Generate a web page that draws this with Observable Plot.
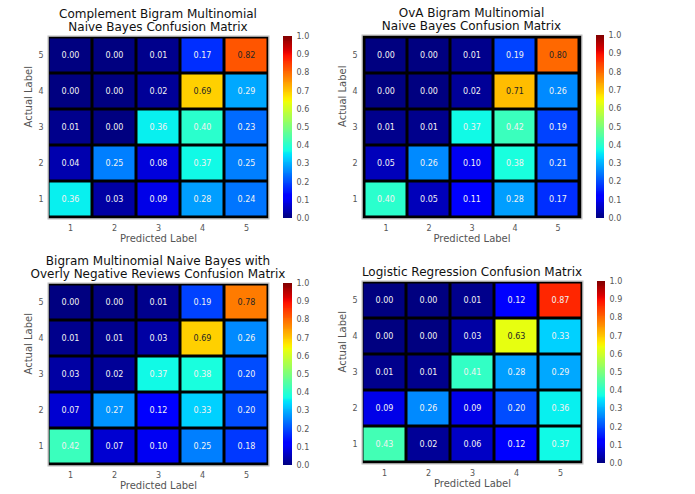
<!DOCTYPE html>
<html>
<head>
<meta charset="utf-8">
<script src="https://cdn.jsdelivr.net/npm/d3@7"></script>
<script src="https://cdn.jsdelivr.net/npm/@observablehq/plot@0.6"></script>
<style>
  html, body { margin: 0; padding: 0; background: #fff; }
  #root { position: relative; width: 695px; height: 494px; overflow: hidden; font-family: "DejaVu Sans", sans-serif; }
  .title { position: absolute; font-size: 12px; line-height: 13px; color: #111; text-align: center; white-space: nowrap; }
  .abs { position: absolute; }
</style>
</head>
<body>
<div id="root"></div>
<script>
// ---- data ----
const actualLabels = [1, 2, 3, 4, 5];
const predictedLabels = [1, 2, 3, 4, 5];
const colorbarTicks = [0, 0.1, 0.2, 0.3, 0.4, 0.5, 0.6, 0.7, 0.8, 0.9, 1.0];

// rows: actual label 1..5, columns: predicted label 1..5
const complementNB = [
  [0.36, 0.03, 0.09, 0.28, 0.24],
  [0.04, 0.25, 0.08, 0.37, 0.25],
  [0.01, 0.00, 0.36, 0.40, 0.23],
  [0.00, 0.00, 0.02, 0.69, 0.29],
  [0.00, 0.00, 0.01, 0.17, 0.82]
];
const ovaNB = [
  [0.40, 0.05, 0.11, 0.28, 0.17],
  [0.05, 0.26, 0.10, 0.38, 0.21],
  [0.01, 0.01, 0.37, 0.42, 0.19],
  [0.00, 0.00, 0.02, 0.71, 0.26],
  [0.00, 0.00, 0.01, 0.19, 0.80]
];
const negativeNB = [
  [0.42, 0.07, 0.10, 0.25, 0.18],
  [0.07, 0.27, 0.12, 0.33, 0.20],
  [0.03, 0.02, 0.37, 0.38, 0.20],
  [0.01, 0.01, 0.03, 0.69, 0.26],
  [0.00, 0.00, 0.01, 0.19, 0.78]
];
const logistic = [
  [0.43, 0.02, 0.06, 0.12, 0.37],
  [0.09, 0.26, 0.09, 0.20, 0.36],
  [0.01, 0.01, 0.41, 0.28, 0.29],
  [0.00, 0.00, 0.03, 0.63, 0.33],
  [0.00, 0.00, 0.01, 0.12, 0.87]
];
const titles = [
  ["Complement Bigram Multinomial", "Naive Bayes Confusion Matrix"],
  ["OvA Bigram Multinomial", "Naive Bayes Confusion Matrix"],
  ["Bigram Multinomial Naive Bayes with", "Overly Negative Reviews Confusion Matrix"],
  ["Logistic Regression Confusion Matrix"]
];
const matrices = [complementNB, ovaNB, negativeNB, logistic];

// ---- jet colormap (matplotlib) as piecewise scale ----
const jetStops = [0, 0.11, 0.125, 0.34, 0.35, 0.375, 0.64, 0.65, 0.66, 0.89, 0.91, 1];
const jetColors = ["rgb(0,0,128)", "rgb(0,0,255)", "rgb(0,0,255)", "rgb(0,219,255)", "rgb(0,230,247)",
  "rgb(21,255,226)", "rgb(239,255,8)", "rgb(247,246,0)", "rgb(255,236,0)", "rgb(255,19,0)",
  "rgb(232,0,0)", "rgb(128,0,0)"];
const colorScale = { type: "linear", domain: jetStops, range: jetColors, interpolate: "rgb" };

// ---- layout ----
const layout = [
  { x0: 48, x1: 268, y0: 36, y1: 218, cb0: 283, cb1: 292 },
  { x0: 362, x1: 581, y0: 35, y1: 218, cb0: 596, cb1: 604 },
  { x0: 48, x1: 268, y0: 283, y1: 465, cb0: 283, cb1: 292 },
  { x0: 362, x1: 582, y0: 281, y1: 463, cb0: 597, cb1: 605 }
];

const root = document.getElementById("root");
const font = "DejaVu Sans, sans-serif";

matrices.forEach((m, k) => {
  const L = layout[k];
  const data = [];
  m.forEach((row, i) => row.forEach((v, j) => data.push({ actual: actualLabels[i], pred: predictedLabels[j], v })));

  const mL = 48, mT = 4, mR = 4, mB = 34;
  const heat = Plot.plot({
    width: (L.x1 - L.x0) + mL + mR,
    height: (L.y1 - L.y0) + mT + mB,
    marginLeft: mL, marginTop: mT, marginRight: mR, marginBottom: mB,
    style: { fontSize: "8px", fontFamily: font, color: "#555", background: "transparent", overflow: "visible" },
    x: { type: "band", domain: predictedLabels, padding: 0, tickSize: 0, tickPadding: 7, label: null },
    y: { type: "band", domain: actualLabels.slice().reverse(), padding: 0, tickSize: 0, tickPadding: 5, label: null },
    color: colorScale,
    marks: [
      Plot.frame({ fill: "black" }),
      Plot.cell(data, { x: "pred", y: "actual", fill: "v", inset: 1.5 }),
      Plot.frame({ stroke: "#bdbdbd", strokeWidth: 1, inset: -0.5 }),
      Plot.text(data, {
        x: "pred", y: "actual", text: d => d.v.toFixed(2), fontSize: 8,
        fill: d => (d.v >= 0.6 && d.v < 0.85) ? "#262626" : "#f2f2f2"
      }),
      Plot.text(["Predicted Label"], { frameAnchor: "bottom", dy: 23, fontSize: 10, fill: "#555" }),
      Plot.text(["Actual Label"], { frameAnchor: "left", dx: -20, rotate: -90, fontSize: 10, fill: "#555" })
    ]
  });
  heat.classList.add("abs");
  heat.style.left = (L.x0 - mL) + "px";
  heat.style.top = (L.y0 - mT) + "px";
  root.appendChild(heat);

  // colorbar
  const step = 0.005;
  const ramp = d3.range(0, 1, step);
  const cT = 6, cB = 6, cR = 30;
  const cbar = Plot.plot({
    width: (L.cb1 - L.cb0) + cR,
    height: (L.y1 - L.y0) + cT + cB,
    marginLeft: 0, marginRight: cR, marginTop: cT, marginBottom: cB,
    style: { fontSize: "8px", fontFamily: font, color: "#555", background: "transparent", overflow: "visible" },
    x: { domain: [0, 1], axis: null },
    y: { domain: [0, 1], axis: "right", ticks: colorbarTicks, tickFormat: d => d.toFixed(1), tickSize: 0, tickPadding: 4, label: null },
    color: colorScale,
    marks: [
      Plot.rect(ramp, { x1: 0, x2: 1, y1: d => d, y2: d => Math.min(1, d + step * 1.6), fill: d => d + step / 2, shapeRendering: "crispEdges" })
    ]
  });
  cbar.classList.add("abs");
  cbar.style.left = L.cb0 + "px";
  cbar.style.top = (L.y0 - cT) + "px";
  root.appendChild(cbar);

  // title lines
  const lines = titles[k];
  const cx = (L.x0 + L.x1) / 2;
  lines.forEach((t, i) => {
    const d = document.createElement("div");
    d.className = "title";
    d.textContent = t;
    const centerY = L.y0 - 9 - 13 * (lines.length - 1 - i);
    d.style.top = (centerY - 6.5) + "px";
    d.style.left = (cx - 200) + "px";
    d.style.width = "400px";
    root.appendChild(d);
  });
});
</script>
</body>
</html>
